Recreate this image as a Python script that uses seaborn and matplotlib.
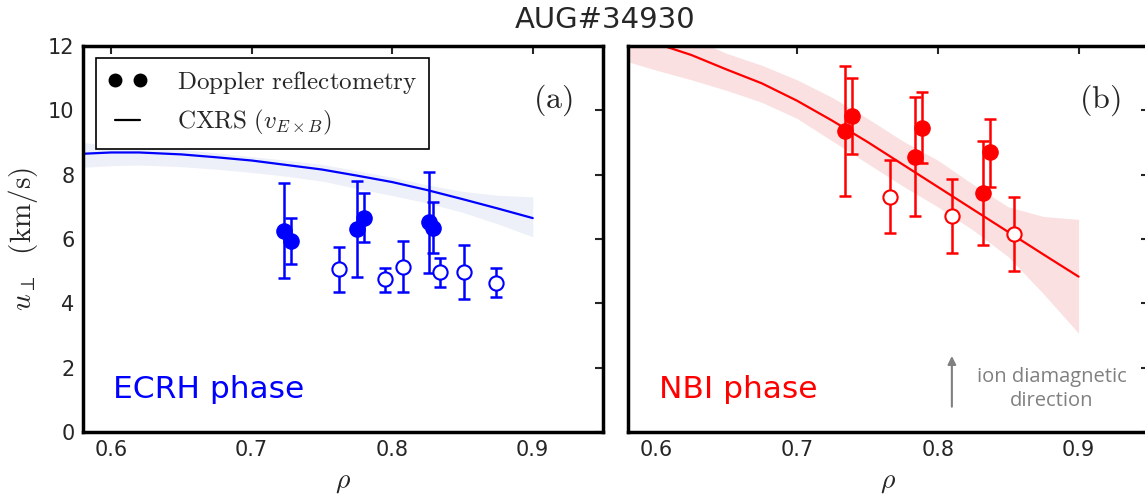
import numpy as np
import seaborn as sns
import matplotlib.pyplot as plt
from matplotlib.lines import Line2D

# ---- (a) ECRH phase ----
ecrh_fill_rho = [0.723, 0.728, 0.775, 0.780, 0.826, 0.829]
ecrh_fill_u = [6.26, 5.94, 6.30, 6.66, 6.52, 6.35]
ecrh_fill_hi = [7.73, 6.64, 7.80, 7.44, 8.07, 7.16]
ecrh_fill_lo = [4.78, 5.23, 4.81, 5.91, 4.93, 5.56]

ecrh_open_rho = [0.762, 0.795, 0.808, 0.834, 0.851, 0.874]
ecrh_open_u = [5.07, 4.75, 5.14, 4.96, 4.98, 4.64]
ecrh_open_hi = [5.76, 5.10, 5.93, 5.42, 5.82, 5.10]
ecrh_open_lo = [4.34, 4.34, 4.34, 4.51, 4.12, 4.19]

ecrh_cx_rho = [0.58, 0.60, 0.62, 0.65, 0.675, 0.70, 0.725, 0.75, 0.775, 0.80, 0.825, 0.85, 0.875, 0.90]
ecrh_cx_u = [8.65, 8.69, 8.69, 8.63, 8.54, 8.44, 8.30, 8.16, 7.97, 7.77, 7.52, 7.24, 6.95, 6.65]
ecrh_cx_lo = [8.23, 8.28, 8.30, 8.25, 8.17, 8.07, 7.95, 7.80, 7.57, 7.35, 7.12, 6.83, 6.47, 6.07]
ecrh_cx_hi = [9.00, 8.90, 8.85, 8.78, 8.68, 8.56, 8.45, 8.32, 8.12, 7.92, 7.68, 7.48, 7.36, 7.31]

# ---- (b) NBI phase ----
nbi_fill_rho = [0.734, 0.739, 0.784, 0.789, 0.832, 0.837]
nbi_fill_u = [9.36, 9.81, 8.56, 9.45, 7.44, 8.69]
nbi_fill_hi = [11.38, 10.99, 10.40, 10.57, 9.05, 9.72]
nbi_fill_lo = [7.35, 8.63, 6.72, 8.37, 5.82, 7.63]

nbi_open_rho = [0.766, 0.810, 0.854]
nbi_open_u = [7.32, 6.72, 6.15]
nbi_open_hi = [8.46, 7.87, 7.30]
nbi_open_lo = [6.20, 5.56, 5.01]

nbi_cx_rho = [0.58, 0.60, 0.625, 0.65, 0.675, 0.70, 0.725, 0.75, 0.775, 0.80, 0.825, 0.85, 0.875, 0.90]
nbi_cx_u = [12.30, 12.08, 11.72, 11.27, 10.84, 10.30, 9.68, 9.02, 8.32, 7.62, 6.92, 6.22, 5.52, 4.83]
nbi_cx_lo = [11.51, 11.25, 10.95, 10.62, 10.25, 9.75, 9.05, 8.35, 7.65, 7.00, 6.28, 5.45, 4.30, 3.07]
nbi_cx_hi = [12.95, 12.70, 12.25, 11.77, 11.40, 10.95, 10.40, 9.75, 9.05, 8.45, 7.70, 7.00, 6.70, 6.61]

sns.set_style("white")
plt.rcParams['mathtext.fontset'] = 'cm'
plt.rcParams['font.family'] = ['DejaVu Sans']

fig = plt.figure(figsize=(11.45, 4.98), dpi=100)
ax1 = fig.add_axes([83 / 1145, 66 / 498, 520 / 1145, 386 / 498])
ax2 = fig.add_axes([628 / 1145, 66 / 498, 521 / 1145, 386 / 498])


def draw_panel(ax, color, band, cx_rho, cx_u, cx_lo, cx_hi,
               f_rho, f_u, f_lo, f_hi, o_rho, o_u, o_lo, o_hi):
    ax.fill_between(cx_rho, cx_lo, cx_hi, color=band, lw=0, zorder=1)
    sns.lineplot(x=cx_rho, y=cx_u, ax=ax, color=color, lw=1.6, zorder=2)
    for r, u, lo, hi in [(f_rho, f_u, f_lo, f_hi), (o_rho, o_u, o_lo, o_hi)]:
        u = np.array(u)
        yerr = [u - np.array(lo), np.array(hi) - u]
        ax.errorbar(r, u, yerr=yerr, fmt='none', ecolor=color, elinewidth=1.8,
                    capsize=4, capthick=1.8, zorder=3)
    sns.scatterplot(x=f_rho, y=f_u, ax=ax, color=color, s=120, edgecolor=color,
                    linewidth=1, zorder=4)
    sns.scatterplot(x=o_rho, y=o_u, ax=ax, color='white', s=105, edgecolor=color,
                    linewidth=1.5, zorder=4)
    ax.set_xlim(0.58, 0.95)
    ax.set_ylim(0, 12)
    ax.set_xticks([0.6, 0.7, 0.8, 0.9])
    ax.set_yticks([0, 2, 4, 6, 8, 10, 12])
    ax.tick_params(direction='in', top=True, right=True, length=6, width=1.5,
                   labelsize=15, pad=6)
    for s in ax.spines.values():
        s.set_linewidth(2.5)
        s.set_color('black')
    ax.set_xlabel(r'$\rho$', fontsize=20, labelpad=5)


draw_panel(ax1, '#0000ff', '#edf0f8', ecrh_cx_rho, ecrh_cx_u, ecrh_cx_lo, ecrh_cx_hi,
           ecrh_fill_rho, ecrh_fill_u, ecrh_fill_lo, ecrh_fill_hi,
           ecrh_open_rho, ecrh_open_u, ecrh_open_lo, ecrh_open_hi)
draw_panel(ax2, '#ff0000', '#fae0e0', nbi_cx_rho, nbi_cx_u, nbi_cx_lo, nbi_cx_hi,
           nbi_fill_rho, nbi_fill_u, nbi_fill_lo, nbi_fill_hi,
           nbi_open_rho, nbi_open_u, nbi_open_lo, nbi_open_hi)

ax1.set_ylabel(r'$u_\perp\ \ \mathrm{(km/s)}$', fontsize=21, labelpad=6)
ax2.set_ylabel('')
ax2.tick_params(labelleft=False)

handles = [Line2D([], [], marker='o', color='k', ls='none', ms=9),
           Line2D([], [], color='k', lw=1.6)]
labels = [r'$\mathrm{Doppler\ reflectometry}$', r'$\mathrm{CXRS}\ (v_{E\times B})$']
leg = ax1.legend(handles, labels, loc='upper left', bbox_to_anchor=(0.025, 0.97),
                 borderaxespad=0, numpoints=2, fontsize=18, fancybox=False,
                 edgecolor='black', framealpha=1, handlelength=1.6,
                 handletextpad=1.2, borderpad=0.45, labelspacing=0.5)
leg.get_frame().set_linewidth(1.2)

ax1.text(0.904, 0.86, r'$\mathrm{(a)}$', transform=ax1.transAxes, fontsize=23,
         ha='center', va='center')
ax2.text(0.906, 0.86, r'$\mathrm{(b)}$', transform=ax2.transAxes, fontsize=23,
         ha='center', va='center')

ax1.text(0.058, 0.111, 'ECRH phase', transform=ax1.transAxes, color='#0000ff',
         fontsize=22.5, ha='left', va='center')
ax2.text(0.06, 0.111, 'NBI phase', transform=ax2.transAxes, color='#ff0000',
         fontsize=22.5, ha='left', va='center')

ax2.annotate('', xy=(0.81, 2.45), xytext=(0.81, 0.7),
             arrowprops=dict(arrowstyle='-|>', color='#808080', lw=1.5,
                             mutation_scale=12))
ax2.text(0.8807, 1.34, 'ion diamagnetic\ndirection', color='#808080',
         fontsize=14.5, family=['Open Sans', 'DejaVu Sans'], ha='center',
         va='center', multialignment='center', linespacing=1.3)

fig.text(605 / 1145, 1 - 20 / 498, 'AUG#34930', fontsize=21, ha='center', va='center')

fig.savefig('out.png', dpi=100)
